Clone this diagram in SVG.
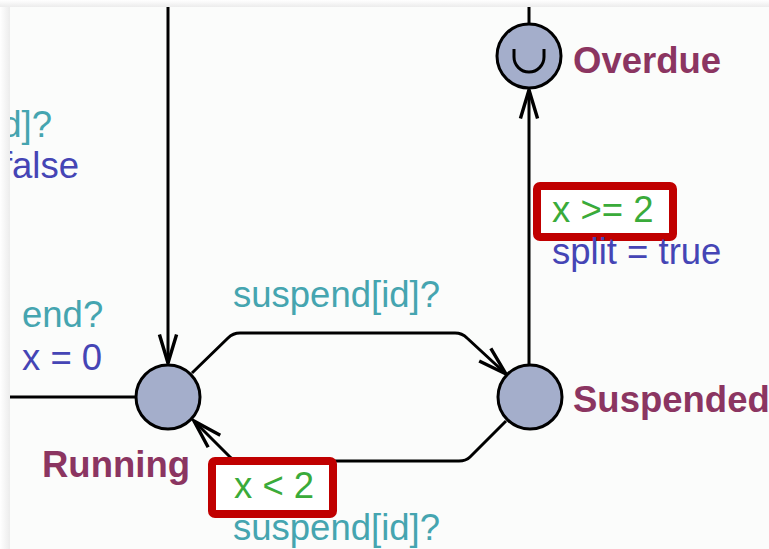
<svg xmlns="http://www.w3.org/2000/svg" width="769" height="549" viewBox="0 0 769 549">
<defs>
<linearGradient id="lg" x1="0" y1="0" x2="1" y2="0"><stop offset="0" stop-color="#ffffff"/><stop offset="1" stop-color="#ececec"/></linearGradient>
<linearGradient id="tg" x1="0" y1="0" x2="0" y2="1"><stop offset="0" stop-color="#ffffff"/><stop offset="1" stop-color="#ececec"/></linearGradient>
<clipPath id="panel"><rect x="10" y="7" width="759" height="542"/></clipPath>
<marker id="arr" markerUnits="userSpaceOnUse" markerWidth="40" markerHeight="40" viewBox="-30 -15 35 30" refX="0" refY="0" orient="auto">
<path d="M-25,-7.5 L0,0 L-25,7.5" fill="none" stroke="#000" stroke-width="3" stroke-linejoin="miter"/>
</marker>
<style>
.edge{fill:none;stroke:#000;stroke-width:3;stroke-linejoin:round}
.loc{fill:#a4aecb;stroke:#000;stroke-width:3}
.t{font-family:"Liberation Sans",Arial,sans-serif;font-size:36.5px}
.name{font-weight:bold;fill:#8b3561}
.sync{fill:#45a5b0}
.upd{fill:#4545b5}
.guard{fill:#3aab3a}
.gbox{fill:#ffffff;stroke:#c00000;stroke-width:8}
</style>
</defs>
<rect x="0" y="0" width="769" height="549" fill="#f4f4f4"/>
<rect x="0" y="0" width="10" height="549" fill="url(#lg)"/>
<rect x="0" y="0" width="769" height="7" fill="url(#tg)"/>
<rect x="10" y="7" width="759" height="542" fill="#fbfcfb"/>
<g clip-path="url(#panel)">
<g id="connectors">
<path class="edge" d="M168,7 L168,363" marker-end="url(#arr)"/>
<path class="edge" d="M10,397 L136,397"/>
<path class="edge" d="M529,7 L529,23"/>
<path class="edge" d="M529,364 L529,90" marker-end="url(#arr)"/>
<path class="edge" d="M192,373 L228,338 Q233,333 240,333 L455,333 Q462,333 467,338 L506,374" marker-end="url(#arr)"/>
<path class="edge" d="M506,421 L470,457 Q466,461 459,461 L240,461 Q234,461 230,457 L194,421" marker-end="url(#arr)"/>
</g>
<g id="label-left">
<text class="t sync" x="52" y="137" text-anchor="end">d]?</text>
<text class="t upd" x="79" y="178" text-anchor="end">false</text>
<text class="t sync" x="22" y="327">end?</text>
<text class="t upd" x="22" y="370">x = 0</text>
</g>
<g id="label-top">
<text class="t sync" x="233" y="307">suspend[id]?</text>
</g>
<g id="label-bottom">
<rect class="gbox" x="212" y="461" width="121" height="53" rx="3"/>
<text class="t guard" x="234" y="498">x &lt; 2</text>
<text class="t sync" x="233" y="540">suspend[id]?</text>
</g>
<g id="label-overdue">
<rect class="gbox" x="537" y="186" width="136" height="51" rx="3"/>
<text class="t guard" x="552" y="222">x &gt;= 2</text>
<text class="t upd" x="552" y="264">split = true</text>
</g>
<g id="Running">
<circle class="loc" cx="168" cy="397" r="32"/>
<text class="t name" x="42" y="477">Running</text>
</g>
<g id="Suspended">
<circle class="loc" cx="530" cy="397" r="32"/>
<text class="t name" x="573" y="412">Suspended</text>
</g>
<g id="Overdue">
<circle class="loc" cx="529" cy="56" r="32"/>
<path d="M514,49 L514,57 A15,15 0 0 0 544,57 L544,49" fill="none" stroke="#000" stroke-width="3"/>
<text class="t name" x="573" y="73">Overdue</text>
</g>
</g>
</svg>
